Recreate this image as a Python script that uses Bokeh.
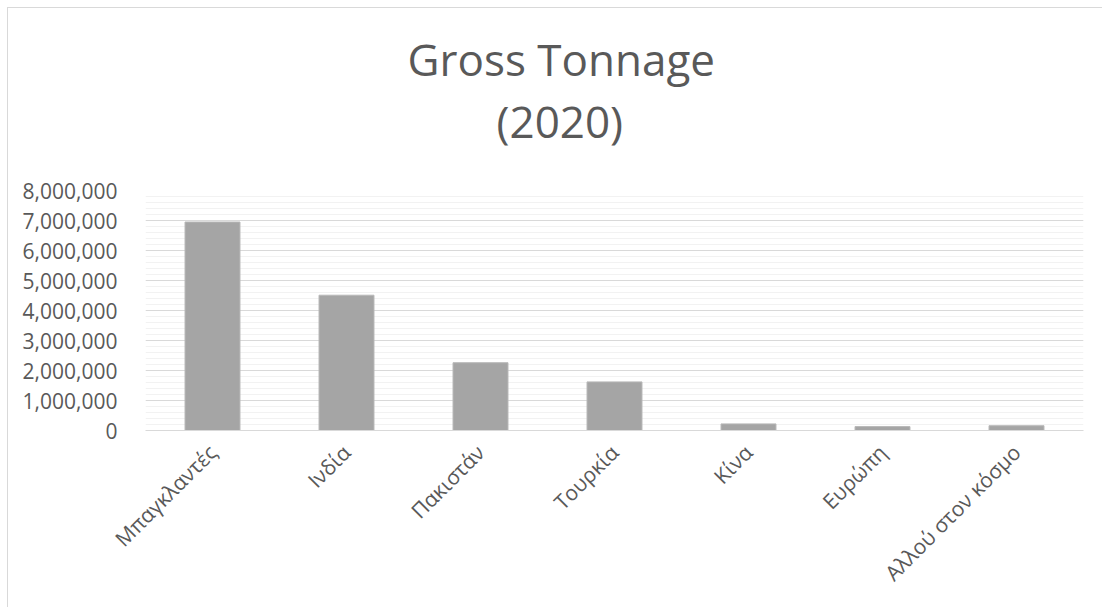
from bokeh.plotting import figure
from bokeh.models import (Range1d, SingleIntervalTicker, FixedTicker, NumeralTickFormatter, Title)
from bokeh.embed import file_html
from bokeh.resources import INLINE
import math

# data
categories = ["Μπαγκλαντές", "Ινδία", "Πακιστάν", "Τουρκία", "Κίνα", "Ευρώπη", "Αλλού στον κόσμο"]
gross_tonnage = [6950000, 4510000, 2260000, 1620000, 220000, 130000, 160000]
title_lines = ["Gross Tonnage", "(2020)"]

TEXT = "#595959"
FONT = "Open Sans"

xs = [i + 0.5 for i in range(len(categories))]

p = figure(width=1095, height=600, x_range=Range1d(0, len(categories)), title=None,
           y_range=Range1d(0, 8000000), output_backend="svg", toolbar_location=None,
           min_border_left=137, min_border_right=20, min_border_top=182, min_border_bottom=178)
p.styles = {"margin-left": "7px", "margin-top": "7px",
            "border-top": "1px solid #D9D9D9", "border-left": "1px solid #D9D9D9"}

p.vbar(x=xs, top=gross_tonnage, width=0.41, fill_color="#A5A5A5", line_color="#B8B8B8", line_width=1)

p.outline_line_color = None
p.background_fill_color = "white"
p.border_fill_color = "white"

# y axis
p.yaxis.ticker = SingleIntervalTicker(interval=1000000, num_minor_ticks=5)
p.yaxis.formatter = NumeralTickFormatter(format="0,0")
p.yaxis.axis_line_color = None
p.yaxis.major_tick_line_color = None
p.yaxis.minor_tick_line_color = None
p.yaxis.major_label_standoff = 22
p.yaxis.major_label_text_font = FONT
p.yaxis.major_label_text_font_size = "21px"
p.yaxis.major_label_text_color = TEXT

p.ygrid.grid_line_color = "#D9D9D9"
p.ygrid.grid_line_width = 1
p.ygrid.minor_grid_line_color = "#F2F2F2"
p.xgrid.grid_line_color = None

# x axis
p.xaxis.ticker = FixedTicker(ticks=xs)
p.xaxis.major_label_overrides = {x: c for x, c in zip(xs, categories)}
p.xaxis.axis_line_color = "#D9D9D9"
p.xaxis.major_tick_line_color = None
p.xaxis.minor_tick_line_color = None
p.xaxis.major_label_orientation = math.pi / 4
p.xaxis.major_label_standoff = 12
p.xaxis.major_label_text_font = FONT
p.xaxis.major_label_text_font_size = "21px"
p.xaxis.major_label_text_color = TEXT

# spacer between plot area and title
p.add_layout(Title(text=" ", align="left", standoff=37, text_font=FONT,
                   text_font_size="1px", text_color="white"), "above")
# title: two lines, stacked outward from the plot area
p.add_layout(Title(text=title_lines[1], align="left", offset=351, standoff=0,
                   text_font=FONT, text_font_size="44px", text_font_style="normal",
                   text_color=TEXT), "above")
p.add_layout(Title(text=title_lines[0], align="left", offset=262, standoff=0,
                   text_font=FONT, text_font_size="44px", text_font_style="normal",
                   text_color=TEXT), "above")

open("out.html", "w").write(file_html(p, INLINE))
